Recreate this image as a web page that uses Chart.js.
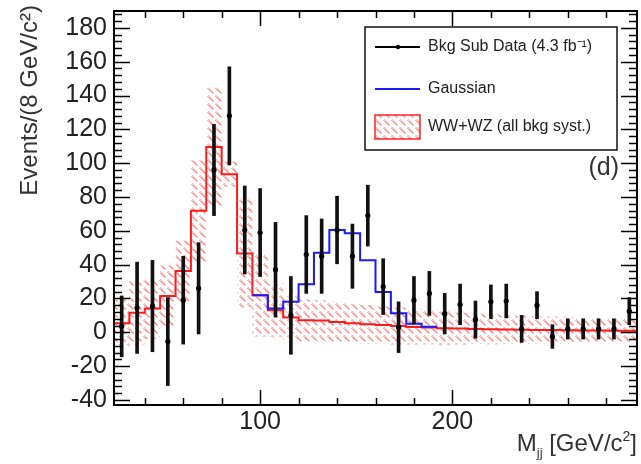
<!DOCTYPE html>
<html>
<head>
<meta charset="utf-8">
<script src="https://cdn.jsdelivr.net/npm/chart.js@4.4.1/dist/chart.umd.min.js"></script>
<style>
  html, body { margin: 0; padding: 0; background: #fff; }
  #wrap { width: 641px; height: 464px; }
</style>
</head>
<body>
<div id="wrap"><canvas id="chart" width="641" height="464"></canvas></div>
<script>
// bin centres of M_jj, 8 GeV/c^2 wide bins
const massBins = [28, 36, 44, 52, 60, 68, 76, 84, 92, 100, 108, 116, 124, 132, 140, 148, 156,
  164, 172, 180, 188, 196, 204, 212, 220, 228, 236, 244, 252, 260, 268, 276, 284, 292];
const binWidth = 8;

// background subtracted data and its errors
const dataValues = [3.5, 14.5, 15.5, -5.5, 19, 26, 96, 128, 60.5, 59, 37, 10, 46, 45, 60.5, 45, 69,
  27, 3, 19, 23, 11, 16.5, 7.5, 18, 18.5, 2, 16, -2.5, 2, 2, 2, 2, 12.5];
const dataErrors = [18, 27, 27, 26, 26, 27, 27, 29, 26, 26, 28, 23, 23, 22, 20, 19, 18,
  16.5, 15, 14, 13, 12, 12, 11, 10, 10, 8, 8, 7, 6, 6, 6, 6, 8];

// WW+WZ expectation and its systematic band (half width)
const wwwzValues = [5.3, 11.6, 14, 21.5, 36.3, 71.8, 109.6, 93.5, 46.6, 21.9, 13, 8.7, 7.1, 7, 6.1, 5.3, 4.7,
  4.3, 3.7, 3.1, 2.8, 2.4, 2.2, 2.0, 1.8, 1.7, 1.5, 1.4, 1.3, 1.2, 1.1, 1.0, 0.9, 0.9];
const wwwzSyst = [14, 19, 18, 18, 18, 30, 35, 7.5, 32, 24.5, 16, 13, 12.5, 12, 12, 11.5, 11.5,
  11, 11, 10.5, 10, 10, 9.5, 9, 9, 8.5, 8.5, 8, 8, 8, 7.5, 7.5, 7.5, 7.5];

// Gaussian fit (stacked on WW+WZ)
const gaussBins = [100, 108, 116, 124, 132, 140, 148, 156, 164, 172, 180, 188];
const gaussTotal = [21.9, 14, 18, 28.4, 47, 60.5, 58.6, 42.6, 23.8, 11.2, 5, 3.3];

const yTickLabels = [-40, -20, 0, 20, 40, 60, 80, 100, 120, 140, 160, 180];
const xTickLabels = [100, 200];

const FONT = "'Liberation Sans', Arial, Helvetica, sans-serif";

// histogram as a stepped line: one point at each lower bin edge plus the last upper edge
function histPoints(centres, values) {
  const pts = centres.map((c, i) => ({ x: c - binWidth / 2, y: values[i] }));
  pts.push({ x: centres[centres.length - 1] + binWidth / 2, y: values[values.length - 1] });
  return pts;
}

// ROOT 3xxx style hatch, drawn as broken diagonal dashes
function hatchPattern() {
  const c = document.createElement('canvas');
  c.width = 8;
  c.height = 8;
  const g = c.getContext('2d');
  g.strokeStyle = 'rgba(236, 80, 80, 0.62)';
  g.lineWidth = 1.6;
  g.beginPath();
  g.moveTo(0.5, 0.5); g.lineTo(5.5, 5.5);
  g.moveTo(4.5, -3.5); g.lineTo(9.5, 1.5);
  g.moveTo(-3.5, 4.5); g.lineTo(1.5, 9.5);
  g.stroke();
  return g.createPattern(c, 'repeat');
}
const hatch = hatchPattern();

const bandHi = wwwzValues.map((v, i) => v + wwwzSyst[i]);
const bandLo = wwwzValues.map((v, i) => v - wwwzSyst[i]);

// frame, inward ticks, legend and labels, ROOT style
const rootFrame = {
  id: 'rootFrame',
  afterDraw(chart) {
    const { ctx, chartArea: a, scales: { x, y } } = chart;
    ctx.save();
    ctx.strokeStyle = '#000';
    ctx.lineWidth = 1.5;
    ctx.beginPath();
    for (let v = 40; v <= 280; v += 20) {
      const len = v % 100 === 0 ? 15 : 7;
      const px = Math.round(x.getPixelForValue(v)) + 0.5;
      ctx.moveTo(px, a.bottom); ctx.lineTo(px, a.bottom - len);
      ctx.moveTo(px, a.top); ctx.lineTo(px, a.top + len);
    }
    for (let v = -40; v <= 188; v += 4) {
      const len = v % 20 === 0 ? 16 : 8;
      const py = Math.round(y.getPixelForValue(v)) + 0.5;
      ctx.moveTo(a.left, py); ctx.lineTo(a.left + len, py);
      ctx.moveTo(a.right, py); ctx.lineTo(a.right - len, py);
    }
    ctx.stroke();
    ctx.lineWidth = 2;
    ctx.strokeRect(a.left, a.top, a.right - a.left, a.bottom - a.top);

    // legend
    ctx.fillStyle = '#fff';
    ctx.fillRect(365, 27, 252, 123);
    ctx.lineWidth = 1.5;
    ctx.strokeStyle = '#111';
    ctx.strokeRect(365, 27, 252, 123);
    ctx.font = '16px ' + FONT;
    ctx.textBaseline = 'middle';

    ctx.lineWidth = 2;
    ctx.strokeStyle = '#000';
    ctx.beginPath(); ctx.moveTo(375, 47); ctx.lineTo(420, 47); ctx.stroke();
    ctx.beginPath(); ctx.arc(398, 47, 2.2, 0, Math.PI * 2); ctx.fillStyle = '#000'; ctx.fill();
    ctx.fillStyle = '#222';
    ctx.fillText('Bkg Sub Data (4.3 fb\u207B\u00B9)', 428, 47);

    ctx.strokeStyle = '#1a1aff';
    ctx.beginPath(); ctx.moveTo(375, 89); ctx.lineTo(420, 89); ctx.stroke();
    ctx.fillText('Gaussian', 428, 89);

    ctx.fillStyle = hatch;
    ctx.fillRect(375, 115, 45, 24);
    ctx.strokeStyle = '#ff2020';
    ctx.lineWidth = 1.5;
    ctx.strokeRect(375, 115, 45, 24);
    ctx.fillStyle = '#222';
    ctx.fillText('WW+WZ (all bkg syst.)', 428, 127);

    // panel tag
    ctx.font = '25px ' + FONT;
    ctx.textAlign = 'right';
    ctx.textBaseline = 'alphabetic';
    ctx.fillStyle = '#333';
    ctx.fillText('(d)', 619, 175);

    // y title, aligned to the top end
    ctx.save();
    ctx.translate(37, 5);
    ctx.rotate(-Math.PI / 2);
    ctx.textAlign = 'right';
    ctx.font = '24px ' + FONT;
    ctx.fillText('Events/(8 GeV/c\u00B2)', 0, 0);
    ctx.restore();

    // x title with subscript and superscript
    ctx.textAlign = 'left';
    const parts = [['M', 24, 0], ['jj', 13, 6], [' [GeV/c', 24, 0], ['2', 14, -10], [']', 24, 0]];
    let total = 0;
    parts.forEach(p => { ctx.font = p[1] + 'px ' + FONT; total += ctx.measureText(p[0]).width; });
    let cx = 637 - total;
    parts.forEach(p => {
      ctx.font = p[1] + 'px ' + FONT;
      ctx.fillText(p[0], cx, 451 + p[2]);
      cx += ctx.measureText(p[0]).width;
    });
    ctx.restore();
  }
};

new Chart(document.getElementById('chart'), {
  type: 'line',
  data: {
    datasets: [
      {
        label: 'Bkg Sub Data',
        type: 'scatter',
        data: massBins.map((m, i) => ({ x: m, y: dataValues[i] })),
        showLine: false,
        pointRadius: 2.6,
        pointBackgroundColor: '#000',
        pointBorderWidth: 0,
        order: 0
      },
      {
        label: 'errors',
        type: 'bar',
        data: massBins.map((m, i) => ({ x: m, y: [dataValues[i] - dataErrors[i], dataValues[i] + dataErrors[i]] })),
        backgroundColor: '#111',
        borderWidth: 0,
        barThickness: 3,
        order: 1
      },
      {
        label: 'Gaussian',
        data: histPoints(gaussBins, gaussTotal),
        stepped: 'before',
        borderColor: '#1a1aff',
        borderWidth: 2,
        pointRadius: 0,
        fill: false,
        order: 2
      },
      {
        label: 'WW+WZ',
        data: histPoints(massBins, wwwzValues),
        stepped: 'before',
        borderColor: '#ff1a1a',
        borderWidth: 2,
        pointRadius: 0,
        fill: false,
        order: 3
      },
      {
        label: 'syst hi',
        data: histPoints(massBins, bandHi),
        stepped: 'before',
        borderWidth: 0,
        borderColor: 'rgba(0,0,0,0)',
        pointRadius: 0,
        backgroundColor: hatch,
        fill: '+1',
        order: 4
      },
      {
        label: 'syst lo',
        data: histPoints(massBins, bandLo),
        stepped: 'before',
        borderWidth: 0,
        borderColor: 'rgba(0,0,0,0)',
        pointRadius: 0,
        fill: false,
        order: 5
      }
    ]
  },
  options: {
    responsive: false,
    animation: false,
    devicePixelRatio: 1,
    layout: { padding: { top: 11, right: 3, left: 0, bottom: 0 } },
    plugins: { legend: { display: false }, tooltip: { enabled: false } },
    scales: {
      x: {
        type: 'linear',
        min: 24,
        max: 296,
        offset: false,
        grid: { display: false, drawTicks: false },
        border: { display: false },
        ticks: { font: { family: FONT, size: 25 }, color: '#222', padding: 2, maxRotation: 0 },
        afterBuildTicks: s => { s.ticks = xTickLabels.map(v => ({ value: v })); },
        afterFit: s => { s.height = 59; s.paddingLeft = 0; s.paddingRight = 0; }
      },
      y: {
        min: -43,
        max: 190,
        grid: { display: false, drawTicks: false },
        border: { display: false },
        ticks: { font: { family: FONT, size: 25 }, color: '#222', padding: 7 },
        afterBuildTicks: s => { s.ticks = yTickLabels.map(v => ({ value: v })); },
        afterFit: s => { s.width = 114; s.paddingTop = 0; s.paddingBottom = 0; }
      }
    }
  },
  plugins: [rootFrame]
});
</script>
</body>
</html>
